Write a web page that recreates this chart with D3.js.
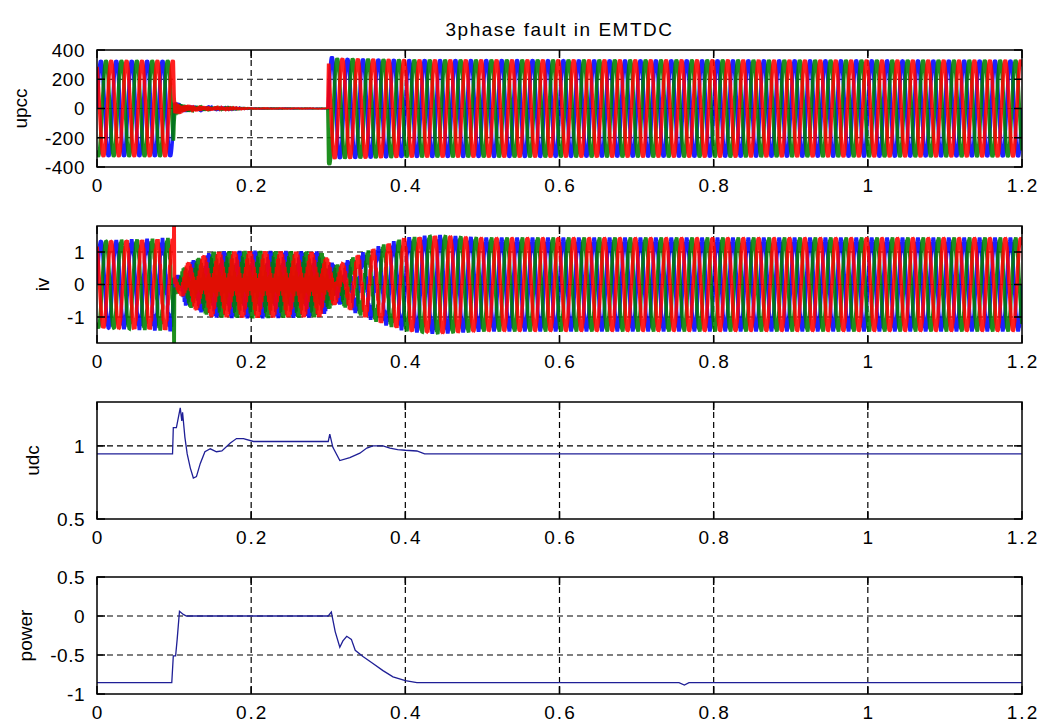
<!DOCTYPE html>
<html>
<head>
<meta charset="utf-8">
<script src="https://cdn.jsdelivr.net/npm/d3@7"></script>
<style>
  body { margin: 0; background: #fff; }
  svg text { font-family: "Liberation Sans", Arial, sans-serif; font-size: 19px; fill: #000; }
</style>
</head>
<body>
<div id="canvas"></div>
<script>
"use strict";

/* Drawing setup */
let svgWidth = 1039;
let svgHeight = 724;
let axLeft = 97;
let axRight = 1022;
let panelHeight = 117;
let tickLen = 8;
let penStretch = 3.6; // horizontal pen stretch for the dense 3-phase traces

/* Shared time axis */
let timeRange = [0, 1.2];
let timeTicks = [0, 0.2, 0.4, 0.6, 0.8, 1, 1.2];

/* Y axes of the four subplots */
let upccRange = [-400, 400];
let upccTicks = [-400, -200, 0, 200, 400];
let ivRange = [-1.8, 1.8];
let ivTicks = [-1, 0, 1];
let udcRange = [0.5, 1.3];
let udcTicks = [0.5, 1];
let powerRange = [-1, 0.5];
let powerTicks = [-1, -0.5, 0, 0.5];

/* Three-phase traces: 50 Hz carrier, peak envelope,
   plus a fast ripple envelope for the fault period */
let fundHz = 50;
let phaseColors = ["#0000ff", "#008000", "#ff0000"];

let upccEnvT = [0, 0.099, 0.1005, 0.11, 0.15, 0.2, 0.2995, 0.3005, 0.306, 0.4, 1.2];
let upccEnvA = [330, 330, 10, 6, 3, 1, 1, 395, 345, 335, 332];
let upccRipT = [0, 0.0995, 0.1005, 0.11, 0.13, 0.16, 0.2, 0.3, 0.3005, 1.2];
let upccRipA = [0, 0, 40, 22, 13, 8, 3, 2, 0, 0];
let upccRipHz = 650;

let ivEnvT = [0, 0.0995, 0.1, 0.1005, 0.108, 0.115, 0.15, 0.2, 0.29, 0.305, 0.315, 0.34, 0.37, 0.4, 0.44, 0.5, 1.2];
let ivEnvA = [1.35, 1.35, 3, 0.2, 0.2, 0.3, 0.42, 0.45, 0.42, 0.3, 0.35, 0.8, 1.15, 1.4, 1.5, 1.42, 1.42];
let ivRipT = [0, 0.1005, 0.108, 0.115, 0.15, 0.2, 0.29, 0.31, 0.34, 0.37, 0.4, 0.45, 1.2];
let ivRipA = [0, 0.1, 0.1, 0.35, 0.6, 0.6, 0.6, 0.3, 0.15, 0.08, 0.05, 0.03, 0.03];
let ivRipHz = 650;

/* DC voltage and power (single traces) */
let udcT = [0, 0.098, 0.099, 0.103, 0.108, 0.11, 0.111, 0.114, 0.117, 0.121, 0.125, 0.129, 0.134, 0.14, 0.147, 0.155, 0.162, 0.173, 0.181, 0.19, 0.203, 0.3, 0.302, 0.306, 0.315, 0.328, 0.341, 0.35, 0.358, 0.371, 0.38, 0.39, 0.4, 0.415, 0.425, 1.2];
let udcV = [0.945, 0.945, 1.125, 1.125, 1.26, 1.17, 1.23, 1.06, 0.945, 0.85, 0.78, 0.79, 0.88, 0.96, 0.98, 0.96, 0.965, 1.02, 1.05, 1.05, 1.03, 1.03, 1.08, 0.99, 0.9, 0.92, 0.95, 0.985, 1.0, 1.0, 0.985, 0.975, 0.97, 0.965, 0.945, 0.945];

let powerT = [0, 0.097, 0.099, 0.102, 0.104, 0.107, 0.112, 0.116, 0.3, 0.304, 0.309, 0.315, 0.319, 0.324, 0.33, 0.335, 0.345, 0.358, 0.371, 0.384, 0.4, 0.415, 0.755, 0.762, 0.768, 1.2];
let powerV = [-0.855, -0.855, -0.51, -0.51, -0.3, 0.06, 0.02, 0.0, 0.0, 0.05, -0.2, -0.4, -0.32, -0.26, -0.3, -0.44, -0.52, -0.61, -0.7, -0.78, -0.83, -0.855, -0.855, -0.885, -0.855, -0.855];

/* Set up canvas */
let svg = d3.select("#canvas")
  .append("svg")
  .attr("width", svgWidth)
  .attr("height", svgHeight);

let xScale = d3.scaleLinear()
  .domain(timeRange)
  .range([axLeft, axRight]);

// same time scale, in the stretched-pen coordinate system
let xInner = d3.scaleLinear()
  .domain(timeRange)
  .range([0, (axRight - axLeft) / penStretch]);

// build the three phase traces from an envelope + ripple envelope
function threePhase(envT, envA, ripT, ripA, ripHz) {
  let env = d3.scaleLinear().domain(envT).range(envA).clamp(true);
  let rip = d3.scaleLinear().domain(ripT).range(ripA).clamp(true);
  let steps = d3.range(0, 12001).map(i => i * 0.0001);
  return [0, 1, 2].map(k => {
    let ph = -k * 2 * Math.PI / 3;
    return steps.map(t => [t,
      env(t) * Math.sin(2 * Math.PI * fundHz * t + ph) +
      rip(t) * Math.sin(2 * Math.PI * ripHz * t + ph * 1.7)]);
  });
}

let panels = [
  { label: "upcc", top: 50, range: upccRange, ticks: upccTicks, dense: true,
    lines: threePhase(upccEnvT, upccEnvA, upccRipT, upccRipA, upccRipHz), colors: phaseColors, width: 1, opacity: 0.88 },
  { label: "iv", top: 226, range: ivRange, ticks: ivTicks, dense: true,
    lines: threePhase(ivEnvT, ivEnvA, ivRipT, ivRipA, ivRipHz), colors: phaseColors, width: 1, opacity: 0.88 },
  { label: "udc", top: 402, range: udcRange, ticks: udcTicks, dense: false,
    lines: [udcT.map((t, i) => [t, udcV[i]])], colors: ["#1f1f96"], width: 1.3, opacity: 1 },
  { label: "power", top: 577, range: powerRange, ticks: powerTicks, dense: false,
    lines: [powerT.map((t, i) => [t, powerV[i]])], colors: ["#1f1f96"], width: 1.3, opacity: 1 }
];

panels.forEach((p, pi) => {
  let bottom = p.top + panelHeight;
  let yScale = d3.scaleLinear().domain(p.range).range([bottom, p.top]);
  let g = svg.append("g");

  g.append("clipPath")
    .attr("id", "clip" + pi)
    .append("rect")
    .attr("x", axLeft)
    .attr("y", p.top)
    .attr("width", axRight - axLeft)
    .attr("height", panelHeight);

  /* dashed grid (below the data, like MATLAB's default layer) */
  g.selectAll(".vgrid")
    .data(timeTicks.slice(1, -1))
    .join("line")
    .attr("x1", d => xScale(d)).attr("x2", d => xScale(d))
    .attr("y1", p.top).attr("y2", bottom)
    .attr("stroke", "#000").attr("stroke-width", 1.2)
    .attr("stroke-dasharray", "6,4");

  g.selectAll(".hgrid")
    .data(p.ticks.filter(v => v > p.range[0] && v < p.range[1]))
    .join("line")
    .attr("x1", axLeft).attr("x2", axRight)
    .attr("y1", d => yScale(d)).attr("y2", d => yScale(d))
    .attr("stroke", "#000").attr("stroke-width", 1.2)
    .attr("stroke-dasharray", "6,4");

  /* data */
  let line = d3.line()
    .x(d => p.dense ? xInner(d[0]) : xScale(d[0]))
    .y(d => yScale(d[1]));

  g.append("g")
    .attr("clip-path", "url(#clip" + pi + ")")
    .append("g")
    .attr("transform", p.dense ? "translate(" + axLeft + ",0) scale(" + penStretch + ",1)" : null)
    .selectAll("path")
    .data(p.lines)
    .join("path")
    .attr("d", line)
    .attr("fill", "none")
    .attr("stroke", (d, i) => p.colors[i])
    .attr("stroke-opacity", p.opacity)
    .attr("stroke-width", p.width);

  /* frame */
  g.append("rect")
    .attr("x", axLeft).attr("y", p.top)
    .attr("width", axRight - axLeft).attr("height", panelHeight)
    .attr("fill", "none").attr("stroke", "#000").attr("stroke-width", 1.5);

  /* inward ticks on all four sides */
  timeTicks.forEach(t => {
    g.append("line").attr("x1", xScale(t)).attr("x2", xScale(t))
      .attr("y1", bottom).attr("y2", bottom - tickLen).attr("stroke", "#000").attr("stroke-width", 1.5);
    g.append("line").attr("x1", xScale(t)).attr("x2", xScale(t))
      .attr("y1", p.top).attr("y2", p.top + tickLen).attr("stroke", "#000").attr("stroke-width", 1.5);
  });
  p.ticks.forEach(v => {
    g.append("line").attr("x1", axLeft).attr("x2", axLeft + tickLen)
      .attr("y1", yScale(v)).attr("y2", yScale(v)).attr("stroke", "#000").attr("stroke-width", 1.5);
    g.append("line").attr("x1", axRight).attr("x2", axRight - tickLen)
      .attr("y1", yScale(v)).attr("y2", yScale(v)).attr("stroke", "#000").attr("stroke-width", 1.5);
  });

  /* tick labels */
  g.selectAll(".xlab")
    .data(timeTicks)
    .join("text")
    .attr("x", d => xScale(d) + 1)
    .attr("y", bottom + 25)
    .attr("text-anchor", "middle")
    .attr("letter-spacing", "2px")
    .text(d => String(d));

  let yLabels = g.append("g");
  yLabels.selectAll("text")
    .data(p.ticks)
    .join("text")
    .attr("x", axLeft - 12)
    .attr("y", d => yScale(d))
    .attr("dy", "0.36em")
    .attr("text-anchor", "end")
    .attr("letter-spacing", "0.5px")
    .text(d => String(d));

  let box = yLabels.node().getBBox();
  g.append("text")
    .attr("transform", "translate(" + (box.x - 18) + "," + (p.top + panelHeight / 2) + ") rotate(-90)")
    .attr("text-anchor", "middle")
    .text(p.label);
});

/* title */
svg.append("text")
  .attr("x", (axLeft + axRight) / 2)
  .attr("y", 36)
  .attr("text-anchor", "middle")
  .attr("letter-spacing", "1.5px")
  .text("3phase fault in EMTDC");
</script>
</body>
</html>
